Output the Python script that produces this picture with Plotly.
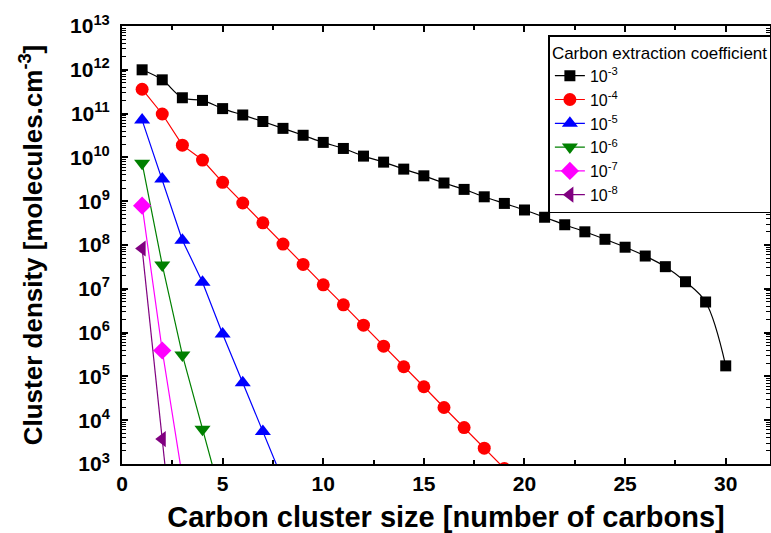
import plotly.graph_objects as go

# ---- data ----
x_black = list(range(1, 31))
y_black = [1.0e12, 5.9e11, 2.3e11, 2.0e11, 1.3e11, 9.3e10, 6.6e10, 4.6e10, 3.2e10, 2.2e10,
           1.6e10, 1.07e10, 7.8e9, 5.4e9, 3.8e9, 2.6e9, 1.86e9, 1.26e9, 8.9e8, 6.3e8,
           4.3e8, 2.9e8, 2.0e8, 1.35e8, 8.9e7, 5.6e7, 3.2e7, 1.45e7, 5.0e6, 1.74e5]

x_red = list(range(1, 20))
y_red = [3.6e11, 9.8e10, 1.9e10, 8.7e9, 2.7e9, 9.1e8, 3.2e8, 1.05e8, 3.6e7, 1.23e7,
         4.3e6, 1.48e6, 4.9e5, 1.66e5, 5.8e4, 1.95e4, 6.8e3, 2.3e3, 7.9e2]

x_blue = list(range(1, 9))
y_blue = [7.1e10, 3.2e9, 1.29e8, 1.41e7, 9.3e5, 7.2e4, 5.5e3, 4.2e2]

x_green = list(range(1, 6))
y_green = [7.4e9, 3.5e7, 3.1e5, 6.2e3, 1.3e2]

x_magenta = [1, 2, 3]
y_magenta = [7.9e8, 3.9e5, 5.0e2]

x_purple = [1, 2, 3]
y_purple = [8.3e7, 3.7e3, 0.16]

series_names = ["10<sup>-3</sup>", "10<sup>-4</sup>", "10<sup>-5</sup>",
                "10<sup>-6</sup>", "10<sup>-7</sup>", "10<sup>-8</sup>"]

y_tick_vals = [1e3, 1e4, 1e5, 1e6, 1e7, 1e8, 1e9, 1e10, 1e11, 1e12, 1e13]
y_tick_text = ["10<sup>3</sup>", "10<sup>4</sup>", "10<sup>5</sup>", "10<sup>6</sup>",
               "10<sup>7</sup>", "10<sup>8</sup>", "10<sup>9</sup>", "10<sup>10</sup>",
               "10<sup>11</sup>", "10<sup>12</sup>", "10<sup>13</sup>"]

FONT = "Arial, Liberation Sans, sans-serif"

styles = [
    (x_black, y_black, "#000000", "square", 11, "spline"),
    (x_red, y_red, "#ff0000", "circle", 13, "linear"),
    (x_blue, y_blue, "#0000ff", "triangle-up", 14, "linear"),
    (x_green, y_green, "#008000", "triangle-down", 14, "linear"),
    (x_magenta, y_magenta, "#ff00ff", "diamond", 14, "linear"),
    (x_purple, y_purple, "#800080", "triangle-left", 14, "linear"),
]

fig = go.Figure()
for (xs, ys, col, sym, sz, shape), name in zip(styles, series_names):
    fig.add_trace(go.Scatter(
        x=xs, y=ys, name=name, mode="lines+markers",
        line=dict(color=col, width=1.2, shape=shape),
        marker=dict(color=col, symbol=sym, size=sz, line=dict(width=0)),
    ))

fig.update_layout(
    width=771, height=533,
    margin=dict(l=122, r=1, t=26, b=69, autoexpand=False),
    paper_bgcolor="white", plot_bgcolor="white",
    font=dict(family=FONT, color="black"),
    showlegend=True,
    legend=dict(
        x=0.658, y=0.979, xanchor="left", yanchor="top",
        xref="paper", yref="paper",
        bgcolor="white", bordercolor="black", borderwidth=1.5,
        font=dict(family=FONT, size=16, color="black"),
        title=dict(text="Carbon extraction coefficient",
                   font=dict(family=FONT, size=17, color="black")),
        tracegroupgap=0,
    ),
)

fig.update_xaxes(
    range=[0, 32.2], showgrid=False, zeroline=False, automargin=False,
    showline=True, linecolor="black", linewidth=2, mirror="ticks",
    ticks="inside", ticklen=6, tickwidth=1.5, tickcolor="black",
    tickvals=[0, 5, 10, 15, 20, 25, 30],
    minor=dict(ticks="inside", ticklen=4, tickwidth=1.5, tickcolor="black",
               dtick=2.5, tick0=0, showgrid=False),
    tickfont=dict(family=FONT, size=21, weight="bold"),
    title=dict(text="Carbon cluster size [number of carbons]",
               font=dict(family=FONT, size=29, weight="bold"), standoff=15),
)

fig.update_yaxes(
    type="log", range=[3, 13], showgrid=False, zeroline=False, automargin=False,
    showline=True, linecolor="black", linewidth=2, mirror="ticks",
    ticks="inside", ticklen=6, tickwidth=1.5, tickcolor="black",
    tickvals=y_tick_vals, ticktext=y_tick_text,
    minor=dict(ticks="inside", ticklen=4, tickwidth=1, tickcolor="black",
               dtick="D1", showgrid=False),
    tickfont=dict(family=FONT, size=21, weight="bold"),
    ticklabelstandoff=6,
    title=dict(text="Cluster density [molecules.cm<sup>-3</sup>]",
               font=dict(family=FONT, size=26, weight="bold"), standoff=20),
)

fig.write_html("out.html", config={"displayModeBar": False},
               post_script="document.body.style.margin='0px';")
